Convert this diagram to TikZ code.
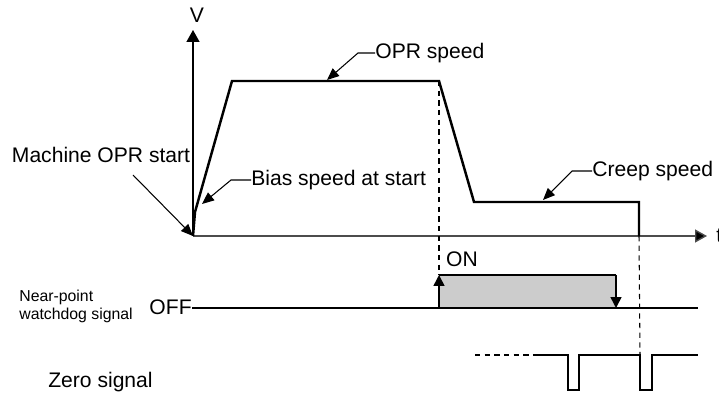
\documentclass[tikz,border=0pt]{standalone}
\usepackage{fontspec}
\setmainfont{Liberation Sans}
\usetikzlibrary{arrows.meta,positioning}

\begin{document}
\begin{tikzpicture}[
  x=0.02cm, y=-0.02cm,
  every node/.style={font=\fontsize{12}{14}\selectfont, inner sep=0pt},
  small/.style={font=\fontsize{9}{10.2}\selectfont, align=left},
  axis/.style={-{Triangle[length=2.4mm, width=2.6mm]}, line width=0.8pt},
  profile/.style={line width=1.4pt, line join=miter},
  leader/.style={-{Triangle[length=2.4mm, width=2mm]}, line width=0.6pt},
  guide/.style={line width=0.6pt, dash pattern=on 3pt off 2.5pt},
  signal/.style={line width=0.9pt},
  edge/.style={signal, -{Triangle[length=2.2mm, width=2.2mm]}}
]
\useasboundingbox (0,0) rectangle (719,394);

% --- AXES ---
\coordinate (origin) at (193,236);
\coordinate (vtop) at (193,30);
\coordinate (tend) at (707,236);
\draw[axis] (origin) -- (vtop);
\draw[axis, black!70, -{Triangle[length=2.4mm, width=2.6mm, fill=black]}] (origin) -- (tend);
\node (vlbl) at (197,15) {V};
\node[anchor=west] (tlbl) at (716,236) {t};

% --- SPEED PROFILE ---
\coordinate (bias) at (195,212);
\coordinate (accel) at (232,81);
\coordinate (decel) at (439,81);
\coordinate (creepA) at (474,202);
\coordinate (creepB) at (639,202);
\coordinate (stop) at (639,236);
\draw[profile] (origin) -- (bias) -- (accel) -- (decel) -- (creepA) -- (creepB) -- (stop);

% --- LABELS ---
\node[anchor=west] (oprlbl) at (375,53) {OPR speed};
\coordinate (oprtip) at (327,80);
\draw[leader] (oprlbl.west) -- ++(-17,0) -- (oprtip);

\node[anchor=west] (biaslbl) at (251,180) {Bias speed at start};
\coordinate (biastip) at (202,204);
\draw[leader] (biaslbl.west) -- ++(-20,0) -- (biastip);

\node[anchor=west] (creeplbl) at (592,171) {Creep speed};
\coordinate (creeptip) at (543,200);
\draw[leader] (creeplbl.west) -- ++(-20,0) -- (creeptip);

\node (machlbl) at (101,155) {Machine OPR start};
\coordinate (machfoot) at (133,175);
\draw[leader] (machfoot) -- (origin);

% --- NEAR-POINT WATCHDOG SIGNAL ---
\node[small, anchor=west] (nearlbl) at (19,306) {Near-point\\watchdog signal};
\node[anchor=east] (off) at (192,307) {OFF};
\coordinate (offend) at (698,308);
\coordinate (onA) at (439,308);
\coordinate (onB) at (439,275);
\coordinate (onC) at (616,275);
\coordinate (onD) at (616,308);
\fill[black!20] (onA) rectangle (onC);
\draw[signal] (off.east |- offend) -- (offend);
\draw[edge] (onA) -- (onB);
\draw[signal] (onB) -- (onC);
\draw[edge] (onC) -- (onD);
\node (onlbl) at (462,259) {ON};

% --- ZERO SIGNAL ---
\node[anchor=west] (zerolbl) at (48,382) {Zero signal};
\coordinate (zA) at (475,355);
\coordinate (zB) at (538,355);
\coordinate (zend) at (698,355);
\draw[guide] (zA) -- (zB);
\draw[signal] (zB) -- (568,355) -- (568,390) -- (579,390) -- (579,355)
  -- (640,355) -- (640,390) -- (652,390) -- (652,355) -- (zend);

% --- GUIDES ---
\draw[guide] (decel) -- (onB);
\draw[guide] (stop) -- (640,355);

\end{tikzpicture}
\end{document}
